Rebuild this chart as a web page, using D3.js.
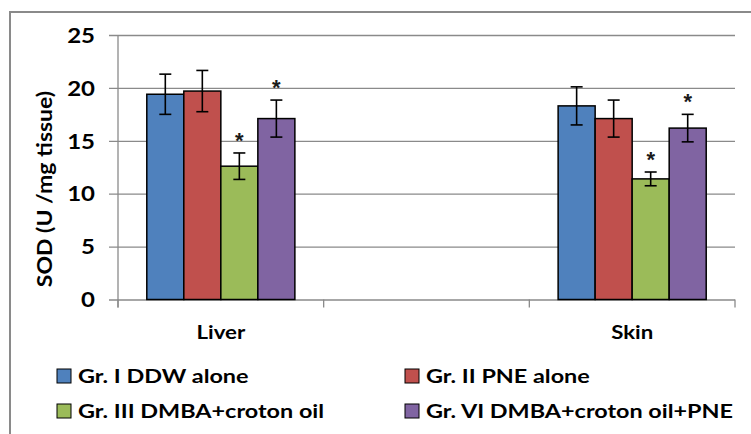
<!DOCTYPE html>
<html>
<head>
<meta charset="utf-8">
<script src="https://cdn.jsdelivr.net/npm/d3@7/dist/d3.min.js"></script>
<style>
  html, body { margin: 0; padding: 0; background: #fff; }
  svg { display: block; }
  text { font-family: Lato, "Liberation Sans", sans-serif; font-weight: bold; fill: #000; }
</style>
</head>
<body>
<svg id="chart" width="751" height="434"></svg>
<script>
// SOD activity per tissue, mean ± error, four treatment groups
const axisSlots = ["Liver", "gap", "Skin"];
const slotLabels = ["Liver", "", "Skin"];
const tissues = ["Liver", "Skin"];
const groups = ["Gr. I DDW alone", "Gr. II PNE alone", "Gr. III DMBA+croton oil", "Gr. VI DMBA+croton oil+PNE"];
const liverValues = [19.4, 19.7, 12.6, 17.1];
const liverErrors = [1.9, 1.95, 1.25, 1.75];
const skinValues = [18.3, 17.1, 11.4, 16.2];
const skinErrors = [1.8, 1.75, 0.65, 1.3];
const significant = [false, false, true, true];
const yTicks = [0, 5, 10, 15, 20, 25];
const yTitle = "SOD (U /mg tissue)";

const colors = ["#4F81BD", "#C0504D", "#9BBB59", "#8064A2"];
const gridColor = "#8a8a8a";

const rows = [];
tissues.forEach((t, ti) => {
  const vals = ti === 0 ? liverValues : skinValues;
  const errs = ti === 0 ? liverErrors : skinErrors;
  groups.forEach((g, gi) => rows.push({ tissue: t, group: g, gi, value: vals[gi], err: errs[gi], sig: significant[gi] }));
});

const svg = d3.select("#chart");
const plot = { left: 118, right: 735, top: 35, bottom: 299.5 };

const x = d3.scaleBand().domain(axisSlots).range([plot.left, plot.right]).padding(0);
const xInner = d3.scaleBand().domain(groups)
  .range([x.bandwidth() * 0.14, x.bandwidth() * 0.86]).padding(0);
const y = d3.scaleLinear().domain([0, 25]).range([plot.bottom, plot.top]);
const barCenter = d => x(d.tissue) + xInner(d.group) + xInner.bandwidth() / 2;

// places a text at (px, py) with a horizontal stretch around its anchor
function placeText(sel, px, py, sx) {
  sel.attr("x", 0).attr("y", 0)
    .attr("transform", (d, i) => `translate(${typeof px === "function" ? px(d, i) : px},${typeof py === "function" ? py(d, i) : py}) scale(${sx},1)`);
}

// outer chart frame
svg.append("rect")
  .attr("x", 10).attr("y", 12).attr("width", 760).attr("height", 440)
  .attr("fill", "#fff").attr("stroke", gridColor).attr("stroke-width", 2);

// horizontal gridlines with tick labels
const yAxis = d3.axisLeft(y).tickValues(yTicks).tickSize(-(plot.right - 109)).tickPadding(14);
const gy = svg.append("g").attr("transform", "translate(109,0)").call(yAxis);
gy.select(".domain").remove();
gy.selectAll(".tick line").attr("stroke", gridColor).attr("stroke-width", 1.3);
gy.selectAll(".tick text")
  .attr("font-size", 20).attr("dy", "0.36em")
  .style("font-family", "Lato, sans-serif").style("font-weight", "bold")
  .call(placeText, -14, 0, 1.2);

// vertical axis line
svg.append("line")
  .attr("x1", plot.left).attr("x2", plot.left)
  .attr("y1", y(25)).attr("y2", plot.bottom + 8)
  .attr("stroke", gridColor).attr("stroke-width", 1.3);

// category boundary ticks
const edges = axisSlots.map(s => x(s)).concat([x.range()[1]]);
svg.selectAll(".xtick").data(edges).join("line")
  .attr("class", "xtick")
  .attr("x1", d => d).attr("x2", d => d)
  .attr("y1", plot.bottom).attr("y2", plot.bottom + 8)
  .attr("stroke", gridColor).attr("stroke-width", 1.3);

// category labels
svg.selectAll(".xlab").data(axisSlots).join("text")
  .attr("class", "xlab")
  .attr("text-anchor", "middle")
  .attr("font-size", 19)
  .text((d, i) => slotLabels[i])
  .call(placeText, d => x(d) + x.bandwidth() / 2, 339, 1.17);

// bars
svg.selectAll(".bar").data(rows).join("rect")
  .attr("class", "bar")
  .attr("x", d => x(d.tissue) + xInner(d.group))
  .attr("y", d => y(d.value))
  .attr("width", xInner.bandwidth())
  .attr("height", d => y(0) - y(d.value))
  .attr("fill", d => colors[d.gi])
  .attr("stroke", "#000").attr("stroke-width", 1.5);

// error bars
const capHalf = 6;
const eb = svg.selectAll(".err").data(rows).join("g").attr("class", "err")
  .attr("stroke", "#000").attr("stroke-width", 1.6);
eb.append("line")
  .attr("x1", barCenter).attr("x2", barCenter)
  .attr("y1", d => y(d.value + d.err)).attr("y2", d => y(d.value - d.err));
[1, -1].forEach(s => {
  eb.append("line")
    .attr("x1", d => barCenter(d) - capHalf)
    .attr("x2", d => barCenter(d) + capHalf)
    .attr("y1", d => y(d.value + s * d.err)).attr("y2", d => y(d.value + s * d.err));
});

// significance marks
svg.selectAll(".sig").data(rows.filter(d => d.sig)).join("text")
  .attr("class", "sig")
  .attr("x", barCenter)
  .attr("y", d => y(d.value + d.err) - 5)
  .attr("text-anchor", "middle")
  .attr("font-size", 22)
  .style("font-family", "'Liberation Sans', sans-serif")
  .style("fill", "#1a1a1a")
  .text("*");

// y-axis title
svg.append("text")
  .attr("transform", "translate(52,189) rotate(-90) scale(1.15,1)")
  .attr("text-anchor", "middle")
  .attr("font-size", 20)
  .text(yTitle);

// legend, two columns
const legendPos = [[57, 369], [405, 369], [57, 404], [405, 404]];
const lg = svg.selectAll(".leg").data(groups).join("g").attr("class", "leg")
  .attr("transform", (d, i) => `translate(${legendPos[i][0]},${legendPos[i][1]})`);
lg.append("rect").attr("width", 14).attr("height", 14)
  .attr("fill", (d, i) => colors[i]).attr("stroke", "#000").attr("stroke-width", 1);
lg.append("text").attr("font-size", 18).text(d => d)
  .call(placeText, 21, 13.5, 1.3);
</script>
</body>
</html>
